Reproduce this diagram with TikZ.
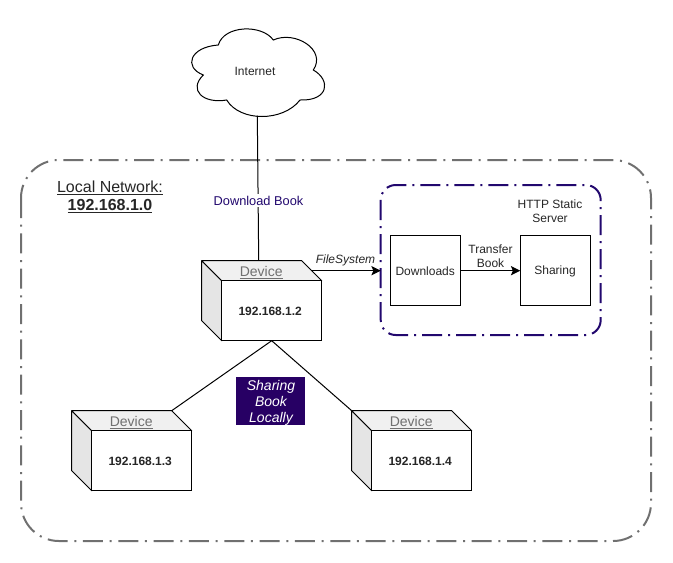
\documentclass[tikz,border=0pt]{standalone}
\usepackage{fontspec}
\setmainfont{Liberation Sans}
\usetikzlibrary{arrows.meta}
\definecolor{netgray}{HTML}{707070}
\definecolor{deeppurple}{HTML}{22086E}
\definecolor{banner}{HTML}{270064}
\tikzset{
  x=0.75pt,y=-0.75pt,
  px12/.style={font=\fontsize{9}{10.5}\selectfont},
  line/.style={draw=black,line width=0.75pt},
  flow/.style={line,-{Stealth[length=7pt,width=7pt,inset=1.5pt]}},
  netbox/.style={draw=netgray,line width=1.5pt,rounded corners=28.5pt,dash pattern=on 15pt off 5pt on 1.5pt off 5pt},
  srvbox/.style={draw=deeppurple,line width=1.5pt,rounded corners=11.25pt,dash pattern=on 15pt off 4.5pt on 1.5pt off 4.5pt},
  square/.style={draw=black,line width=0.75pt,minimum width=52.5pt,minimum height=52.5pt,inner sep=0pt,px12,text=black!85},
  face/.style={draw=black,line width=0.75pt,line join=round},
  cubefront/.style={draw=black,line width=0.75pt,minimum width=75pt,minimum height=45pt,inner sep=0pt,fill=white},
  cubeaddr/.style={inner sep=0pt,font=\fontsize{9}{10.5}\selectfont\bfseries,text=black!85},
  cubetop/.style={inner sep=0pt,text=netgray,font=\fontsize{10.5}{12}\selectfont},
  plain/.style={inner sep=0pt,align=center,px12,text=black!85},
}
% name, left x, top y, address
\newcommand{\netcube}[4]{%
  \draw[face,fill=black!10] ({#2},{#3}) -- ({#2+20},{#3+20}) -- ({#2+20},{#3+80}) -- ({#2},{#3+60}) -- cycle;
  \draw[face,fill=black!6] ({#2},{#3}) -- ({#2+100},{#3}) -- ({#2+120},{#3+20}) -- ({#2+20},{#3+20}) -- cycle;
  \node[cubefront] (#1) at ({#2+70},{#3+50}) {};
  \node[cubeaddr] (#1addr) at ({#2+68.5},{#3+50.5}) {#4};
  \node[cubetop] (#1top) at ({#2+59.5},{#3+12}) {\underline{Device}};
  \coordinate (#1tl) at ({#2},{#3});
  \coordinate (#1tr) at ({#2+100},{#3});
  \coordinate (#1tm) at ({#2+57},{#3});
  \coordinate (#1re) at ({#2+110},{#3+10});
  \coordinate (#1bm) at ({#2+70},{#3+80});
}
\begin{document}
\begin{tikzpicture}
\useasboundingbox (0,0) rectangle (673,562);
\draw[netbox] (21,160) rectangle (651,541);
\draw[srvbox] (380.7,185) rectangle (600.7,335);

\draw[line,fill=white] (218.3,45) .. controls (224,25) and (262,24) .. (273.3,40)
  .. controls (295,30) and (327,50) .. (313.3,70)
  .. controls (331,80) and (329,101) .. (300,100)
  .. controls (283,122) and (240,122) .. (226.7,100)
  .. controls (203,104) and (188,90) .. (203.3,75)
  .. controls (183,67) and (190,47) .. (218.3,45) -- cycle;
\coordinate (cloudbottom) at (257.3,115.5);
\node[plain] (internet) at (255,71.5) {Internet};

\netcube{d2}{201.7}{260.7}{192.168.1.2}
\netcube{d3}{71.7}{410.7}{192.168.1.3}
\netcube{d4}{351.7}{410.7}{192.168.1.4}

\draw[line] (cloudbottom) -- (d2tm);
\node[plain,fill=white,text=deeppurple,inner sep=1.5pt,font=\fontsize{9.6}{11}\selectfont] (dl) at (258.5,200.5) {Download Book};

\node[square] (downloads) at (425.7,270.7) {};
\node[plain] (downloadst) at (425.2,271.2) {Downloads};
\node[square] (sharing) at (555.7,270.7) {};
\node[plain] (sharingt) at (555,271.2) {Sharing};
\coordinate (srvwest) at (380.7,270.7);
\draw[flow] (d2re) -- (srvwest);
\node[plain,font=\fontsize{9}{10.5}\selectfont\itshape] (fs) at (345.5,260.5) {FileSystem};
\draw[flow] (downloads) -- (sharing);
\node[plain] (tb) at (490.5,255.8) {Transfer\\Book};
\node[plain] (http) at (550,211) {HTTP Static\\Server};

\draw[line] (d2bm) -- (d3tr);
\draw[line] (d2bm) -- (d4tl);

\node[fill=banner,minimum width=51.75pt,minimum height=36pt,inner sep=0pt] (sb) at (270.5,401.2) {};
\node[text=white,inner sep=0pt,align=center,font=\fontsize{10.5}{12}\selectfont\itshape] (sbt) at (271,402.4) {Sharing\\Book\\Locally};

\node[inner sep=0pt,text=black!85,align=center,font=\fontsize{12}{13.5}\selectfont] (ln) at (110,197)
  {\underline{Local Network:}\\\underline{\textbf{192.168.1.0}}};
\end{tikzpicture}
\end{document}
